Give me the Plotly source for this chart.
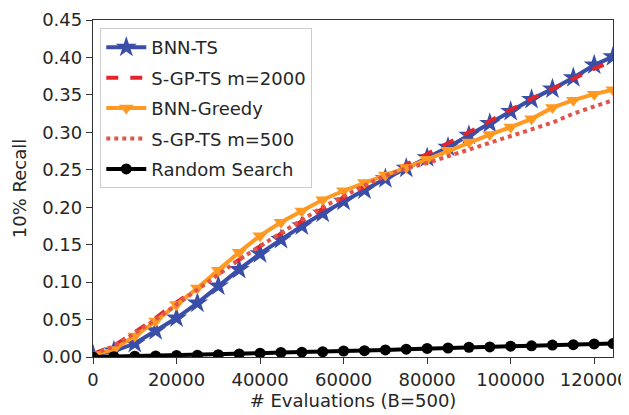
import plotly.graph_objects as go

evals = [0, 5000, 10000, 15000, 20000, 25000, 30000, 35000, 40000, 45000, 50000,
         55000, 60000, 65000, 70000, 75000, 80000, 85000, 90000, 95000, 100000,
         105000, 110000, 115000, 120000, 124500]

bnn_ts = [0.003, 0.008, 0.018, 0.035, 0.052, 0.072, 0.095, 0.117, 0.138, 0.157, 0.175,
          0.192, 0.208, 0.223, 0.238, 0.252, 0.266, 0.280, 0.296, 0.312, 0.328,
          0.344, 0.358, 0.373, 0.390, 0.401]
sgp_2000 = [0.004, 0.015, 0.033, 0.052, 0.073, 0.092, 0.112, 0.130, 0.148, 0.165, 0.182,
            0.198, 0.213, 0.228, 0.243, 0.257, 0.271, 0.285, 0.300, 0.315, 0.330,
            0.345, 0.358, 0.371, 0.385, 0.395]
bnn_greedy = [0.003, 0.010, 0.028, 0.048, 0.070, 0.092, 0.116, 0.140, 0.162, 0.180, 0.195,
              0.210, 0.222, 0.233, 0.243, 0.253, 0.264, 0.276, 0.287, 0.297, 0.307,
              0.318, 0.333, 0.343, 0.351, 0.357]
sgp_500 = [0.004, 0.014, 0.032, 0.050, 0.070, 0.090, 0.110, 0.130, 0.148, 0.166, 0.183,
           0.200, 0.215, 0.229, 0.242, 0.252, 0.259, 0.268, 0.276, 0.285, 0.294,
           0.303, 0.313, 0.325, 0.335, 0.343]
random_search = [0.000, 0.0005, 0.001, 0.0015, 0.002, 0.0025, 0.003, 0.004, 0.005, 0.006, 0.0065,
                 0.007, 0.008, 0.0085, 0.0095, 0.0105, 0.0115, 0.012, 0.013, 0.0135, 0.0145,
                 0.015, 0.016, 0.0165, 0.0175, 0.018]

x_ticks = [0, 20000, 40000, 60000, 80000, 100000, 120000]
y_ticks = [0.00, 0.05, 0.10, 0.15, 0.20, 0.25, 0.30, 0.35, 0.40, 0.45]

fig = go.Figure()

series = [
    ("BNN-TS", bnn_ts, "#3a4ea8", "solid", "star", 16),
    ("S-GP-TS m=2000", sgp_2000, "#e3242b", "dash", None, 0),
    ("BNN-Greedy", bnn_greedy, "#ff9922", "solid", "triangle-down", 13),
    ("S-GP-TS m=500", sgp_500, "#e0554a", "dot", None, 0),
    ("Random Search", random_search, "#000000", "solid", "circle", 11),
]

for i, (name, vals, color, dash, sym, size) in enumerate(series):
    if sym:
        mode = "lines+markers"
        marker = dict(symbol=sym, size=size, color=color, line=dict(width=0))
    else:
        mode = "lines"
        marker = None
    fig.add_trace(go.Scatter(
        x=evals, y=vals, name=name, mode=mode,
        line=dict(color=color, width=4, dash=dash),
        marker=marker, legendgroup=f"g{i}", cliponaxis=True,
    ))

FONT = "DejaVu Sans"
TXT = "#262626"

axis_common = dict(
    showline=True, linecolor="#333333", linewidth=1.3, mirror=True,
    ticks="outside", ticklen=6, tickcolor="#333333", tickwidth=1.3,
    showgrid=False, zeroline=False, automargin=False,
    tickfont=dict(family=FONT, size=18, color=TXT),
)

fig.update_xaxes(
    range=[0, 124500], tickvals=x_ticks, tickformat="d",
    title=dict(text="# Evaluations (B=500)", font=dict(family=FONT, size=18, color=TXT), standoff=3),
    **axis_common,
)
fig.update_yaxes(
    range=[0, 0.45], tickvals=y_ticks, tickformat=".2f",
    title=dict(text="10% Recall", font=dict(family=FONT, size=18, color=TXT), standoff=10),
    **axis_common,
)

fig.update_layout(
    width=621, height=407,
    margin=dict(l=85, r=16, t=12, b=58),
    plot_bgcolor="white", paper_bgcolor="white",
    font=dict(family=FONT, size=18, color=TXT),
    legend=dict(
        x=0.014, y=0.976, xanchor="left", yanchor="top",
        bgcolor="rgba(255,255,255,0.85)", bordercolor="#cccccc", borderwidth=1,
        font=dict(family=FONT, size=18, color=TXT),
        traceorder="grouped", tracegroupgap=4, itemwidth=40,
    ),
)

fig.write_html("out.html")
